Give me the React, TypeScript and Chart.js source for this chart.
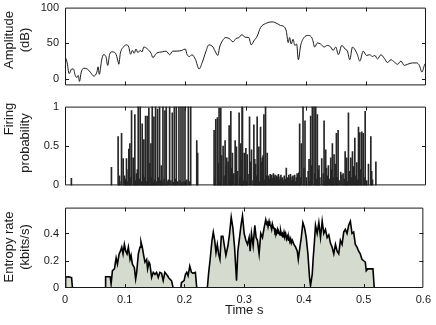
import React, { useEffect, useRef } from 'react';
import { Chart, registerables } from 'chart.js';

Chart.register(...registerables);

const xTickValues = [0, 0.1, 0.2, 0.3, 0.4, 0.5, 0.6];
const amplitudeTicks = [0, 50, 100];
const firingTicks = [0, 0.5, 1];
const entropyTicks = [0, 0.2, 0.4];

// [time s, amplitude dB]
const amplitudePoints: [number, number][] = [
  [0, 31.6], [0.003, 25], [0.007, 7.5], [0.011, 14], [0.014, 14], [0.017, 5], [0.02, 2], [0.022, 5],
  [0.024, -3.5], [0.027, 9.6], [0.031, 15], [0.037, 14], [0.042, 9.6], [0.048, 4], [0.053, 9.6],
  [0.055, 17], [0.057, 6.5], [0.061, 27], [0.064, 34], [0.068, 31.5], [0.071, 19], [0.074, 34],
  [0.078, 38], [0.084, 36], [0.088, 25], [0.0894, 20.6], [0.092, 36], [0.097, 44.7], [0.102, 47.8],
  [0.106, 44.7], [0.109, 34.6], [0.112, 40], [0.115, 36], [0.118, 42], [0.121, 37], [0.125, 40],
  [0.128, 38], [0.131, 44.7], [0.137, 42], [0.143, 36], [0.146, 30], [0.152, 36], [0.162, 38],
  [0.168, 39], [0.174, 34], [0.179, 39], [0.186, 39], [0.194, 40], [0.2, 42], [0.203, 34],
  [0.207, 31.5], [0.211, 34], [0.217, 27], [0.2228, 14], [0.228, 23], [0.234, 38], [0.239, 47.8],
  [0.246, 44.7], [0.25, 38], [0.254, 33], [0.257, 44.7], [0.2617, 53.5], [0.267, 58], [0.273, 56.6],
  [0.2794, 52], [0.284, 56.6], [0.289, 58], [0.2939, 62], [0.2995, 58.5], [0.3056, 58], [0.3094, 47.8],
  [0.314, 53.5], [0.3194, 60], [0.325, 72], [0.3333, 77.6], [0.3444, 80], [0.3528, 77.6], [0.358, 75],
  [0.3639, 73.5], [0.3678, 67], [0.371, 51], [0.3733, 58], [0.376, 49], [0.379, 55.6], [0.382, 47],
  [0.385, 49], [0.3878, 27], [0.3917, 47], [0.3972, 58], [0.4044, 61], [0.411, 56.6], [0.415, 44.7],
  [0.4194, 50.4], [0.425, 49], [0.4306, 44.7], [0.436, 47], [0.4417, 44.7], [0.4456, 40], [0.45, 44.7],
  [0.4544, 34], [0.46, 47], [0.4656, 42], [0.4694, 39], [0.4733, 27], [0.4778, 44.7], [0.4833, 39],
  [0.486, 34], [0.49, 25], [0.4956, 39], [0.5011, 33], [0.5067, 34], [0.511, 31.5], [0.515, 33],
  [0.5194, 28], [0.525, 34], [0.5306, 29], [0.536, 23], [0.5417, 27], [0.547, 24], [0.5528, 20.6],
  [0.5583, 25], [0.5639, 19], [0.5694, 20.6], [0.5778, 22.5], [0.5844, 22.5], [0.5889, 19],
  [0.5933, 9.6], [0.5972, 19], [0.6, 23],
];

// [time s, firing probability]
const firingSpikes: [number, number][] = [
  [0.0106, 0.09], [0.0772, 0.23], [0.0883, 0.62], [0.0906, 0.12], [0.0911, 0.05], [0.094, 0.66],
  [0.0967, 0.34], [0.0989, 0.12], [0.1003, 0.08], [0.1022, 0.34], [0.1033, 0.05], [0.105, 0.2],
  [0.1061, 0.46], [0.1078, 0.53], [0.1092, 0.1], [0.1106, 0.95], [0.1133, 0.35], [0.1147, 0.12],
  [0.1161, 0.9], [0.1175, 0.06], [0.1189, 0.15], [0.1203, 0.2], [0.1217, 1.0], [0.1233, 0.08],
  [0.125, 1.0], [0.1267, 0.05], [0.1283, 0.78], [0.1297, 0.13], [0.1311, 0.58], [0.1325, 0.1],
  [0.1339, 0.88], [0.1353, 0.05], [0.1367, 0.88], [0.1381, 0.08], [0.1394, 0.98], [0.1411, 0.28],
  [0.1428, 0.53], [0.1439, 0.1], [0.145, 1.0], [0.1464, 0.04], [0.1478, 0.87], [0.1492, 0.07],
  [0.1506, 1.0], [0.1522, 0.05], [0.1539, 0.97], [0.1553, 0.1], [0.1572, 1.0], [0.1586, 0.06],
  [0.16, 0.25], [0.1614, 0.05], [0.1628, 1.0], [0.1647, 0.08], [0.1661, 0.95], [0.1683, 1.0],
  [0.1697, 0.05], [0.1717, 0.07], [0.1739, 1.0], [0.1761, 0.06], [0.1783, 0.92], [0.1806, 0.04],
  [0.1817, 1.0], [0.1839, 0.08], [0.185, 1.0], [0.1872, 0.05], [0.1894, 1.0], [0.1911, 0.06],
  [0.1928, 1.0], [0.1944, 0.04], [0.1961, 1.0], [0.1978, 0.05], [0.1994, 1.0], [0.2025, 0.07],
  [0.205, 1.0], [0.2069, 0.05], [0.2089, 1.0], [0.219, 0.57], [0.2205, 0.41],
  [0.2478, 0.7], [0.2492, 0.1], [0.2506, 0.84], [0.2533, 0.86], [0.2547, 0.28], [0.2561, 0.98],
  [0.2575, 0.05], [0.2589, 0.98], [0.2603, 0.38], [0.2628, 0.5], [0.2644, 0.12], [0.2661, 0.57],
  [0.2675, 0.25], [0.2689, 0.35], [0.2711, 0.3], [0.2728, 0.76], [0.2742, 0.08], [0.2756, 0.94],
  [0.277, 0.22], [0.2783, 0.41], [0.2806, 0.15], [0.2828, 0.57], [0.2842, 0.32], [0.285, 0.49],
  [0.287, 0.18], [0.2894, 0.92], [0.2908, 0.1], [0.2922, 0.53], [0.2936, 0.32], [0.2944, 1.0],
  [0.295, 0.98], [0.2964, 0.06], [0.2978, 0.41], [0.2992, 0.24], [0.3006, 0.47], [0.3028, 0.39],
  [0.3042, 0.14], [0.3067, 0.87], [0.3083, 0.3], [0.31, 0.45], [0.3125, 0.06], [0.3139, 0.77],
  [0.3153, 0.33], [0.3167, 0.27], [0.318, 0.12], [0.3194, 0.87], [0.3208, 0.25], [0.3222, 0.49],
  [0.3236, 0.05], [0.325, 0.74], [0.3264, 0.3], [0.3278, 0.35], [0.3292, 0.38], [0.3306, 0.9],
  [0.3322, 0.07], [0.3333, 1.0], [0.335, 0.12], [0.3361, 0.41],
  [0.3383, 0.12], [0.3395, 0.08], [0.341, 0.14], [0.3422, 0.1], [0.3436, 0.13], [0.345, 0.09],
  [0.3464, 0.15], [0.3478, 0.11], [0.3492, 0.13], [0.3506, 0.08], [0.352, 0.12], [0.3533, 0.1],
  [0.3547, 0.14], [0.3561, 0.07], [0.3575, 0.11], [0.3589, 0.13], [0.3603, 0.09], [0.3617, 0.1],
  [0.3631, 0.06], [0.3645, 0.12], [0.3659, 0.08], [0.3678, 0.22], [0.3692, 0.1], [0.3706, 0.07],
  [0.372, 0.13], [0.3733, 0.09], [0.3747, 0.14], [0.3761, 0.06], [0.3775, 0.11], [0.3789, 0.12],
  [0.3803, 0.08], [0.3817, 0.13], [0.3831, 0.05], [0.3845, 0.1], [0.3859, 0.15], [0.3873, 0.07],
  [0.3886, 0.16], [0.39, 0.78], [0.3914, 0.1], [0.3928, 0.53], [0.3956, 1.0], [0.3972, 0.22],
  [0.3989, 0.82], [0.4014, 0.1], [0.4042, 0.18], [0.4056, 0.33], [0.407, 0.06], [0.4083, 0.88],
  [0.4097, 0.25], [0.4111, 1.0], [0.4139, 1.0], [0.4153, 0.15], [0.4167, 1.0], [0.418, 0.08],
  [0.4194, 0.9], [0.4208, 0.2], [0.4222, 0.25], [0.4236, 0.1], [0.4267, 0.34], [0.4292, 0.15],
  [0.4306, 0.82], [0.432, 0.05], [0.4333, 0.45], [0.4347, 0.22], [0.4361, 0.12], [0.4378, 0.25],
  [0.4397, 0.08], [0.4417, 0.35], [0.443, 0.2], [0.4444, 0.53], [0.4458, 0.1], [0.4472, 0.39],
  [0.4492, 0.27], [0.4511, 0.66], [0.4525, 0.1], [0.4539, 0.7], [0.4556, 0.06], [0.4583, 0.17],
  [0.4603, 0.13], [0.4622, 0.15], [0.4639, 0.08], [0.4656, 0.43], [0.467, 0.2], [0.4683, 0.35],
  [0.4697, 0.05], [0.4711, 0.92], [0.473, 0.18], [0.475, 0.35], [0.4764, 0.1], [0.4778, 0.43],
  [0.4797, 0.24], [0.4817, 0.6], [0.4831, 0.12], [0.485, 0.29], [0.4864, 0.07], [0.4878, 0.74],
  [0.49, 0.67], [0.4917, 0.2], [0.4933, 0.68], [0.4956, 0.66], [0.4972, 0.1], [0.4989, 0.94],
  [0.5014, 0.06], [0.5044, 0.27], [0.5083, 0.62], [0.5097, 0.18], [0.5111, 0.07], [0.5167, 0.3],
];

// [time s, entropy rate kbits/s]
const entropyPoints: [number, number][] = [
  [0, 0], [0.001, 0.08], [0.006, 0.082], [0.011, 0.076], [0.0125, 0],
  [0.067, 0], [0.068, 0.083], [0.0756, 0.083], [0.0772, 0.03], [0.0794, 0.127], [0.0828, 0.14],
  [0.0856, 0.22], [0.0878, 0.175], [0.0906, 0.25], [0.0928, 0.27], [0.095, 0.3], [0.0972, 0.25],
  [0.0994, 0.32], [0.1017, 0.27], [0.1039, 0.25], [0.1061, 0.3], [0.1089, 0.21], [0.1106, 0.24],
  [0.1128, 0.175], [0.1161, 0.15], [0.1183, 0.066], [0.12, 0.115], [0.1228, 0.25], [0.1256, 0.3],
  [0.1272, 0.34], [0.1294, 0.3], [0.1317, 0.24], [0.1339, 0.19], [0.1367, 0.21], [0.1383, 0.14],
  [0.1406, 0.19], [0.1422, 0.175], [0.145, 0.078], [0.1478, 0.115], [0.1506, 0.1], [0.1533, 0.115],
  [0.1561, 0.078], [0.1589, 0.115], [0.1617, 0.108], [0.1644, 0.054], [0.1672, 0.115], [0.1717, 0.09],
  [0.1739, 0.073], [0.1783, 0.054], [0.1811, 0],
  [0.1939, 0], [0.195, 0.04], [0.1994, 0.054], [0.2017, 0.1], [0.2039, 0.115], [0.2061, 0.09],
  [0.2089, 0.16], [0.2117, 0.115], [0.2144, 0.108], [0.2183, 0.115], [0.2206, 0],
  [0.2383, 0], [0.2406, 0.115], [0.2428, 0.2], [0.2461, 0.35], [0.2483, 0.41], [0.2506, 0.35],
  [0.2528, 0.26], [0.255, 0.32], [0.2572, 0.25], [0.2594, 0.21], [0.2617, 0.38], [0.2644, 0.38],
  [0.2672, 0.3], [0.2694, 0.24], [0.2728, 0.31], [0.2756, 0.4], [0.2783, 0.52], [0.2811, 0.44],
  [0.2839, 0.3], [0.2872, 0.054], [0.2894, 0.27], [0.2922, 0.37], [0.295, 0.47], [0.2972, 0.53],
  [0.3, 0.4], [0.3028, 0.35], [0.3056, 0.32], [0.3083, 0.37], [0.31, 0.27], [0.3122, 0.4],
  [0.315, 0.31], [0.3178, 0.46], [0.32, 0.37], [0.3222, 0.35], [0.325, 0.25], [0.3278, 0.4],
  [0.3306, 0.37], [0.3333, 0.44], [0.3361, 0.5], [0.3375, 0.47], [0.3389, 0.48], [0.34, 0.45],
  [0.3417, 0.49], [0.343, 0.46], [0.3444, 0.46], [0.346, 0.43], [0.3472, 0.47], [0.349, 0.44],
  [0.35, 0.44], [0.3515, 0.41], [0.3528, 0.42], [0.354, 0.4], [0.3556, 0.43], [0.357, 0.4],
  [0.3583, 0.41], [0.36, 0.39], [0.3611, 0.42], [0.3625, 0.39], [0.3639, 0.4], [0.365, 0.37],
  [0.3667, 0.41], [0.368, 0.38], [0.3694, 0.4], [0.3708, 0.36], [0.3722, 0.38], [0.374, 0.35],
  [0.375, 0.37], [0.3765, 0.34], [0.3778, 0.36], [0.379, 0.33], [0.3806, 0.35], [0.3833, 0.32],
  [0.3861, 0.3], [0.3889, 0.27], [0.3906, 0.21], [0.3933, 0.3], [0.3956, 0.37], [0.3983, 0.48],
  [0.4011, 0.44], [0.4039, 0.37], [0.4067, 0.25], [0.4094, 0.078], [0.4111, 0.017], [0.4139, 0.1],
  [0.4156, 0.22], [0.4178, 0.35], [0.4194, 0.46], [0.4222, 0.4], [0.425, 0.48], [0.4278, 0.37],
  [0.4306, 0.49], [0.4333, 0.4], [0.4361, 0.43], [0.4389, 0.37], [0.4417, 0.39], [0.4444, 0.33],
  [0.4472, 0.3], [0.45, 0.25], [0.4528, 0.32], [0.4556, 0.27], [0.4583, 0.25], [0.4611, 0.35],
  [0.4639, 0.32], [0.4667, 0.41], [0.4694, 0.43], [0.4722, 0.4], [0.475, 0.46], [0.4778, 0.49],
  [0.4806, 0.4], [0.4833, 0.41], [0.4861, 0.32], [0.4889, 0.3], [0.4917, 0.27], [0.4944, 0.25],
  [0.4972, 0.21], [0.5, 0.2], [0.5028, 0.19], [0.5044, 0.127], [0.5067, 0.14], [0.5111, 0.14],
  [0.5156, 0.14], [0.5178, 0],
];

const FONT = 'Helvetica, Arial, "Liberation Sans", sans-serif';
const INK = '#1a1a1a';
const PLOT_LEFT = 65;
const PAD_RIGHT = 10;

type TitleLine = { text: string; x: number; y: number };

const frameTicksPlugin = {
  id: 'frameTicks',
  afterDatasetsDraw(chart: any, _args: any, opts: any) {
    const { ctx, chartArea: a, scales } = chart;
    ctx.save();
    ctx.strokeStyle = INK;
    ctx.lineWidth = 1;
    ctx.beginPath();
    ctx.rect(a.left + 0.5, a.top + 0.5, a.right - a.left - 1, a.bottom - a.top - 1);
    const len = 4;
    for (const v of opts.xTicks || []) {
      const px = Math.round(scales.x.getPixelForValue(v)) + 0.5;
      if (px <= a.left + 1 || px >= a.right - 1) continue;
      ctx.moveTo(px, a.top);
      ctx.lineTo(px, a.top + len);
      ctx.moveTo(px, a.bottom);
      ctx.lineTo(px, a.bottom - len);
    }
    for (const v of opts.yTicks || []) {
      const py = Math.round(scales.y.getPixelForValue(v)) + 0.5;
      if (py <= a.top + 1 || py >= a.bottom - 1) continue;
      ctx.moveTo(a.left, py);
      ctx.lineTo(a.left + len, py);
      ctx.moveTo(a.right, py);
      ctx.lineTo(a.right - len, py);
    }
    ctx.stroke();
    ctx.restore();
  },
  afterDraw(chart: any, _args: any, opts: any) {
    const { ctx } = chart;
    const lines: TitleLine[] = opts.titles || [];
    ctx.save();
    ctx.fillStyle = INK;
    ctx.font = `13px ${FONT}`;
    ctx.textAlign = 'center';
    ctx.textBaseline = 'middle';
    for (const l of lines) {
      ctx.save();
      ctx.translate(l.x, l.y);
      ctx.rotate(-Math.PI / 2);
      ctx.fillText(l.text, 0, 0);
      ctx.restore();
    }
    ctx.restore();
  },
};

function yScale(min: number, max: number, ticks: number[]) {
  return {
    type: 'linear',
    min,
    max,
    grid: { display: false, drawTicks: false, tickLength: 0 },
    border: { display: false },
    afterBuildTicks: (axis: any) => {
      axis.ticks = ticks.map((value) => ({ value }));
    },
    afterFit: (axis: any) => {
      axis.width = PLOT_LEFT;
    },
    ticks: {
      padding: 6,
      color: INK,
      font: { family: FONT, size: 11 },
      callback: (v: any) => String(v),
    },
  };
}

function hiddenX() {
  return { type: 'linear', min: 0, max: 0.6, offset: false, display: false };
}

export default function App() {
  const ref1 = useRef<HTMLCanvasElement>(null);
  const ref2 = useRef<HTMLCanvasElement>(null);
  const ref3 = useRef<HTMLCanvasElement>(null);

  useEffect(() => {
    const charts: Chart[] = [];

    charts.push(
      new Chart(ref1.current as HTMLCanvasElement, {
        type: 'line',
        data: {
          datasets: [
            {
              data: amplitudePoints.map(([x, y]) => ({ x, y })),
              borderColor: INK,
              borderWidth: 1,
              pointRadius: 0,
              cubicInterpolationMode: 'monotone',
              fill: false,
            },
          ],
        },
        options: {
          responsive: false,
          animation: false,
          layout: { padding: { top: 10, bottom: 10, right: PAD_RIGHT, left: 0 } },
          plugins: {
            legend: { display: false },
            tooltip: { enabled: false },
            frameTicks: {
              xTicks: xTickValues,
              yTicks: amplitudeTicks,
              titles: [
                { text: 'Amplitude', x: 9, y: 45 },
                { text: '(dB)', x: 25, y: 45 },
              ],
            },
          } as any,
          scales: { x: hiddenX(), y: yScale(-9, 100, amplitudeTicks) } as any,
        },
        plugins: [frameTicksPlugin],
      } as any)
    );

    charts.push(
      new Chart(ref2.current as HTMLCanvasElement, {
        type: 'bar',
        data: {
          datasets: [
            {
              data: firingSpikes.map(([x, y]) => ({ x, y })),
              backgroundColor: '#262626',
              borderWidth: 0,
              barThickness: 1,
            },
          ],
        },
        options: {
          responsive: false,
          animation: false,
          layout: { padding: { top: 10, bottom: 10, right: PAD_RIGHT, left: 0 } },
          plugins: {
            legend: { display: false },
            tooltip: { enabled: false },
            frameTicks: {
              xTicks: xTickValues,
              yTicks: firingTicks,
              titles: [
                { text: 'Firing', x: 9, y: 25 },
                { text: 'probability', x: 25, y: 49 },
              ],
            },
          } as any,
          scales: { x: hiddenX(), y: yScale(0, 1, firingTicks) } as any,
        },
        plugins: [frameTicksPlugin],
      } as any)
    );

    charts.push(
      new Chart(ref3.current as HTMLCanvasElement, {
        type: 'line',
        data: {
          datasets: [
            {
              data: entropyPoints.map(([x, y]) => ({ x, y })),
              borderColor: '#000',
              borderWidth: 1.6,
              pointRadius: 0,
              tension: 0,
              fill: 'origin',
              backgroundColor: '#d6dbcf',
            },
          ],
        },
        options: {
          responsive: false,
          animation: false,
          layout: { padding: { top: 10, bottom: 0, right: PAD_RIGHT, left: 0 } },
          plugins: {
            legend: { display: false },
            tooltip: { enabled: false },
            filler: { propagate: false },
            frameTicks: {
              xTicks: xTickValues,
              yTicks: entropyTicks,
              titles: [
                { text: 'Entropy rate', x: 9, y: 52 },
                { text: '(kbits/s)', x: 25, y: 52 },
              ],
            },
          } as any,
          scales: {
            x: {
              type: 'linear',
              min: 0,
              max: 0.6,
              offset: false,
              grid: { display: false, drawTicks: false, tickLength: 0 },
              border: { display: false },
              afterBuildTicks: (axis: any) => {
                axis.ticks = xTickValues.map((value) => ({ value }));
              },
              afterFit: (axis: any) => {
                axis.height = 37;
              },
              ticks: {
                padding: 5,
                maxRotation: 0,
                color: INK,
                font: { family: FONT, size: 11 },
                callback: (v: any) => (Number(v) === 0 ? '0' : Number(v).toFixed(1)),
              },
              title: {
                display: true,
                text: 'Time s',
                color: INK,
                font: { family: FONT, size: 13 },
                padding: { top: 0, bottom: 7 },
              },
            },
            y: yScale(0, 0.59, entropyTicks),
          } as any,
        },
        plugins: [frameTicksPlugin],
      } as any)
    );

    return () => {
      charts.forEach((c) => c.destroy());
    };
  }, []);

  const wrap: React.CSSProperties = {
    position: 'fixed',
    left: 0,
    top: 0,
    width: 436,
    height: 325,
    overflow: 'hidden',
    background: '#fff',
  };
  const abs = (top: number): React.CSSProperties => ({ position: 'absolute', left: 0, top });

  return (
    <div style={wrap}>
      <canvas ref={ref1} width={436} height={103} style={abs(-5)} />
      <canvas ref={ref2} width={436} height={104} style={abs(94)} />
      <canvas ref={ref3} width={436} height={130} style={abs(195)} />
    </div>
  );
}
